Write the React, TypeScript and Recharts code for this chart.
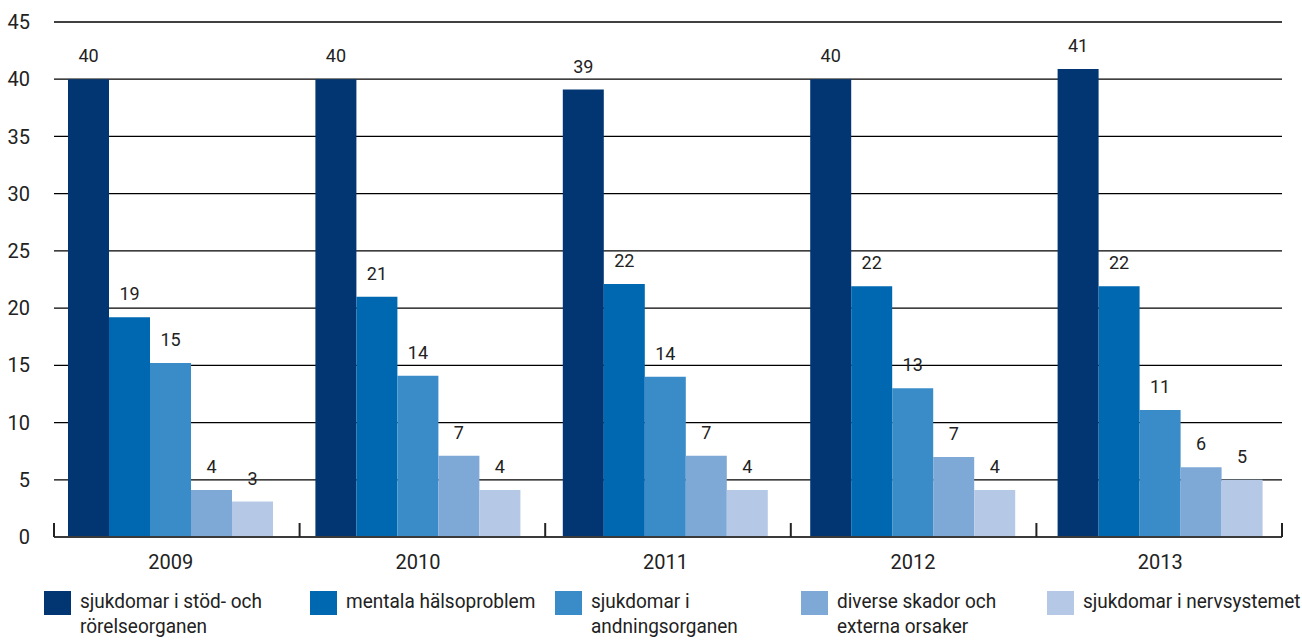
import { Bar, BarChart, CartesianGrid, LabelList, XAxis, YAxis } from "recharts";

document.body.style.margin = "0";

const YEARS = ["2009", "2010", "2011", "2012", "2013"];
const STOD = [40.0, 40.0, 39.1, 40.0, 40.9];
const MENTAL = [19.2, 21.0, 22.1, 21.9, 21.9];
const ANDNING = [15.2, 14.1, 14.0, 13.0, 11.1];
const DIVERSE = [4.1, 7.1, 7.1, 7.0, 6.1];
const NERV = [3.1, 4.1, 4.1, 4.1, 5.0];
const Y_TICKS = [0, 5, 10, 15, 20, 25, 30, 35, 40, 45];

const SERIES = [
  { key: "stod", name: "sjukdomar i stöd- och\nrörelseorganen", color: "#023672", values: STOD },
  { key: "mental", name: "mentala hälsoproblem", color: "#0067b1", values: MENTAL },
  { key: "andning", name: "sjukdomar i\nandningsorganen", color: "#3a8cc9", values: ANDNING },
  { key: "diverse", name: "diverse skador och\nexterna orsaker", color: "#7ea8d5", values: DIVERSE },
  { key: "nerv", name: "sjukdomar i nervsystemet", color: "#b5c9e7", values: NERV }
];

const CHART_W = 1302;
const MARGIN = { top: 22, right: 20, bottom: 3, left: 0 };
const Y_AXIS_W = 54;
// legend item widths (the first item is a bit wider in the original)
const LEGEND_W = [266, 245, 246, 246, 250];
// bar groups sit a little left of the category boundaries in the original
const PAD = { left: -7, right: -2 };

const data = YEARS.map((year, i) => {
  const row: Record<string, string | number> = { year };
  SERIES.forEach((s) => (row[s.key] = s.values[i]));
  return row;
});

const FONT = "Roboto, 'Liberation Sans', sans-serif";

// year label plus short upward tick marks at the category boundaries
function YearTick(props: any) {
  const x = Number(props.x);
  const y = Number(props.y);
  const value = props.payload?.value;
  const idx = Math.max(0, YEARS.indexOf(String(value)));
  const n = YEARS.length;
  const plotW = CHART_W - MARGIN.left - MARGIN.right - Y_AXIS_W;
  const band = (plotW - PAD.left - PAD.right) / n;
  const rangeStart = x - band / 2 - idx * band;
  const plotLeft = rangeStart - PAD.left;
  const step = plotW / n;
  const left = plotLeft + idx * step;
  const right = left + step;
  return (
    <g>
      <line x1={left} x2={left} y1={y} y2={y - 14} stroke="#222" strokeWidth={2} />
      {idx === n - 1 && <line x1={right} x2={right} y1={y} y2={y - 14} stroke="#222" strokeWidth={2} />}
      <text x={x} y={y + 32} textAnchor="middle" fill="#222" fontSize={20} fontFamily={FONT}>
        {value}
      </text>
    </g>
  );
}

function LegendRow() {
  return (
    <div style={{ display: "flex", paddingLeft: 44, marginTop: 10, fontFamily: FONT, fontSize: 20, color: "#222" }}>
      {SERIES.map((s, i) => (
        <div key={s.key} style={{ width: LEGEND_W[i], flexShrink: 0, display: "flex", alignItems: "flex-start", whiteSpace: "nowrap" }}>
          <div style={{ width: 27, height: 24, background: s.color, marginTop: 1, flexShrink: 0 }} />
          <div
            style={{
              marginLeft: 9,
              whiteSpace: "pre",
              lineHeight: "25px",
              marginTop: -1,
              transform: "scaleX(0.95)",
              transformOrigin: "left"
            }}
          >
            {s.name}
          </div>
        </div>
      ))}
    </div>
  );
}

export default function App() {
  return (
    <div style={{ width: CHART_W, height: 644, overflow: "hidden" }}>
      <BarChart width={CHART_W} height={580} data={data} margin={MARGIN} barGap={0} barCategoryGap={0}>
        <CartesianGrid vertical={false} stroke="#000" strokeWidth={1.3} />
        {SERIES.map((s) => (
          <Bar key={s.key} dataKey={s.key} name={s.name} fill={s.color} barSize={41} isAnimationActive={false}>
            <LabelList
              dataKey={s.key}
              position="top"
              offset={17}
              formatter={(v: number) => Math.round(v)}
              style={{ fill: "#222", fontSize: 18, fontFamily: FONT }}
            />
          </Bar>
        ))}
        <XAxis
          dataKey="year"
          axisLine={{ stroke: "#3a3a3a", strokeWidth: 2 }}
          tickLine={false}
          tickSize={0}
          tickMargin={0}
          interval={0}
          padding={PAD}
          height={40}
          tick={<YearTick />}
        />
        <YAxis
          domain={[0, 45]}
          ticks={Y_TICKS}
          width={Y_AXIS_W}
          axisLine={false}
          tickLine={false}
          tickSize={0}
          tickMargin={24}
          tick={{ fill: "#222", fontSize: 20, fontFamily: FONT }}
        />
      </BarChart>
      <LegendRow />
    </div>
  );
}
